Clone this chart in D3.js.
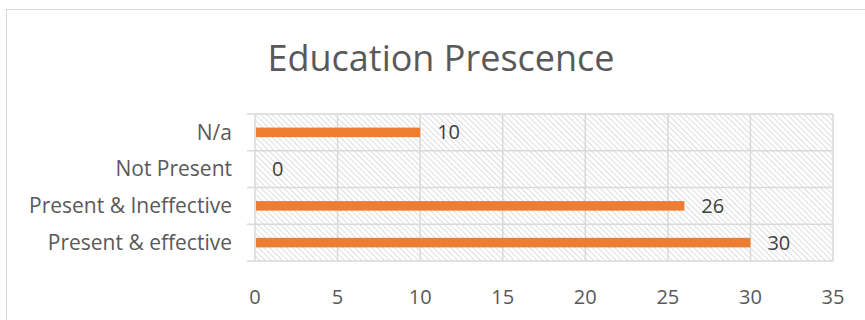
<!DOCTYPE html>
<html>
<head>
<meta charset="utf-8">
<script src="https://cdn.jsdelivr.net/npm/d3@7"></script>
<style>
  html, body { margin: 0; padding: 0; background: #fff; }
  svg { display: block; }
  text { font-family: "Open Sans", "Noto Sans", sans-serif; fill: #595959; }
</style>
</head>
<body>
<svg id="chart" width="865" height="320"></svg>
<script>
// Education presence counts, drawn bottom-to-top as in a clustered bar chart
const categories = ["N/a", "Not Present", "Present & Ineffective", "Present & effective"];
const counts = [10, 0, 26, 30];
const xTicks = [0, 5, 10, 15, 20, 25, 30, 35];
const title = "Education Prescence";

const svg = d3.select("#chart");
const plot = { left: 255, right: 833, top: 114, bottom: 261 };

// Chart frame
svg.append("rect")
  .attr("x", 6.5).attr("y", 9.5)
  .attr("width", 875).attr("height", 330)
  .attr("fill", "#fff")
  .attr("stroke", "#d9d9d9").attr("stroke-width", 1);

// Diagonal hatch for the plot area
const defs = svg.append("defs");
const pat = defs.append("pattern")
  .attr("id", "hatch")
  .attr("patternUnits", "userSpaceOnUse")
  .attr("width", 4).attr("height", 4)
  .attr("patternTransform", "rotate(45)");
pat.append("rect").attr("width", 4).attr("height", 4).attr("fill", "#fff");
pat.append("line")
  .attr("x1", 0).attr("y1", 0).attr("x2", 4).attr("y2", 0)
  .attr("stroke", "#d0d0d0").attr("stroke-width", 1.4);

const x = d3.scaleLinear()
  .domain([xTicks[0], xTicks[xTicks.length - 1]])
  .range([plot.left, plot.right]);

const y = d3.scaleBand()
  .domain(categories)
  .range([plot.top, plot.bottom])
  .paddingInner(0.74)
  .paddingOuter(0.37);

const rowStep = (plot.bottom - plot.top) / categories.length;

svg.append("rect")
  .attr("x", plot.left).attr("y", plot.top)
  .attr("width", plot.right - plot.left).attr("height", plot.bottom - plot.top)
  .attr("fill", "url(#hatch)");

// Vertical gridlines
svg.append("g")
  .selectAll("line")
  .data(xTicks)
  .join("line")
  .attr("x1", d => x(d)).attr("x2", d => x(d))
  .attr("y1", plot.top).attr("y2", plot.bottom)
  .attr("stroke", "#d9d9d9").attr("stroke-width", 1.5);

// Horizontal row separators
const rowEdges = d3.range(categories.length + 1).map(i => plot.top + i * rowStep);
svg.append("g")
  .selectAll("line")
  .data(rowEdges)
  .join("line")
  .attr("x1", plot.left - 8).attr("x2", plot.right)
  .attr("y1", d => d).attr("y2", d => d)
  .attr("stroke", "#d9d9d9").attr("stroke-width", 1.5);

// Bars
svg.append("g")
  .selectAll("rect")
  .data(categories)
  .join("rect")
  .attr("x", x(0) + 1)
  .attr("y", d => y(d))
  .attr("width", (d, i) => Math.max(0, x(counts[i]) - x(0) - 1))
  .attr("height", y.bandwidth())
  .attr("fill", "#ed7d31");

// Data labels
svg.append("g")
  .selectAll("text")
  .data(categories)
  .join("text")
  .attr("x", (d, i) => x(counts[i]) + 17)
  .attr("y", d => y(d) + y.bandwidth() / 2)
  .attr("dy", "0.35em")
  .attr("font-size", 20)
  .style("fill", "#404040")
  .text((d, i) => counts[i]);

// Category axis labels
svg.append("g")
  .selectAll("text")
  .data(categories)
  .join("text")
  .attr("x", 232)
  .attr("y", d => y(d) + y.bandwidth() / 2)
  .attr("dy", "0.35em")
  .attr("text-anchor", "end")
  .attr("font-size", 21)
  .text(d => d);

// Value axis labels
svg.append("g")
  .selectAll("text")
  .data(xTicks)
  .join("text")
  .attr("x", d => x(d))
  .attr("y", 297)
  .attr("dy", "0.35em")
  .attr("text-anchor", "middle")
  .attr("font-size", 20)
  .text(d => d);

// Title
svg.append("text")
  .attr("x", 441)
  .attr("y", 58)
  .attr("dy", "0.35em")
  .attr("text-anchor", "middle")
  .attr("font-size", 36)
  .text(title);
</script>
</body>
</html>
